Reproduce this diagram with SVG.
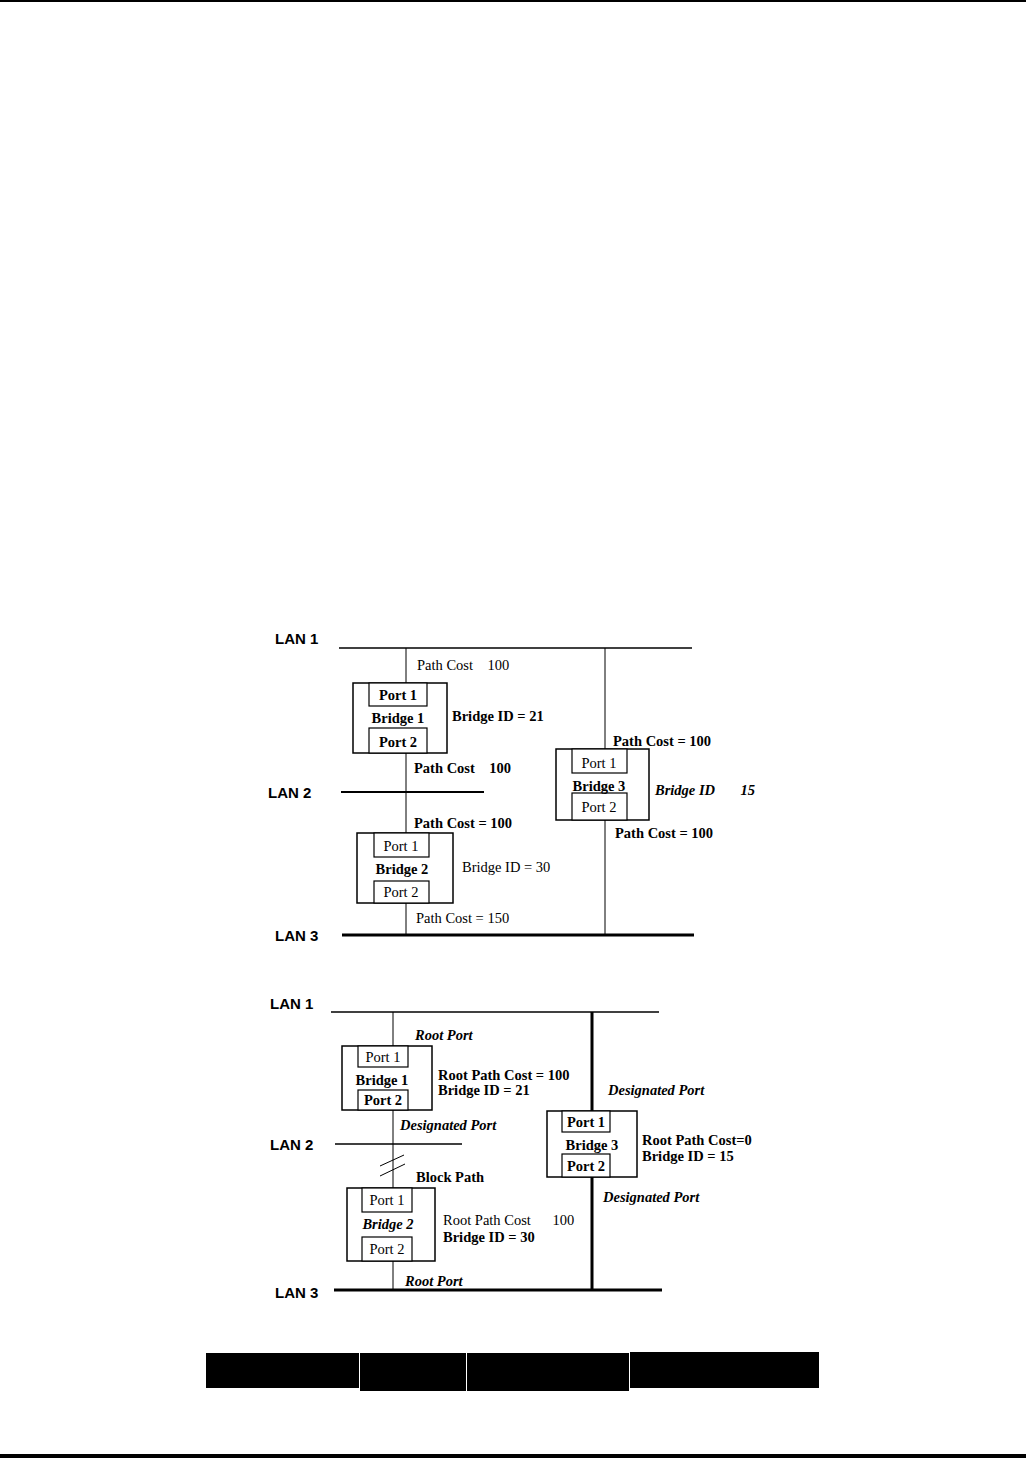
<svg xmlns="http://www.w3.org/2000/svg" width="1026" height="1458" viewBox="0 0 1026 1458" xml:space="preserve">
<style>
.lan{font-family:"Liberation Sans",Arial,sans-serif;font-weight:bold;font-size:15px;fill:#000}
.t{font-family:"Liberation Serif","Times New Roman",serif;font-size:14.5px;fill:#000;white-space:pre}
.b{font-weight:bold}
.i{font-style:italic;font-weight:bold}
.box{fill:#fff;stroke:#000;stroke-width:1.5}
.pbox{fill:#fff;stroke:#000;stroke-width:1.2}
.ln{stroke:#000;fill:none}
</style>
<rect x="0" y="0" width="1026" height="2" fill="#000"/>
<rect x="0" y="1454" width="1026" height="4" fill="#000"/>

<g id="connectors">
<line class="ln" x1="339" y1="648" x2="692" y2="648" stroke-width="1.5"/>
<line class="ln" x1="341" y1="792" x2="484" y2="792" stroke-width="2"/>
<line class="ln" x1="342" y1="935" x2="694" y2="935" stroke-width="3"/>
<line class="ln" x1="406" y1="648" x2="406" y2="935" stroke-width="1"/>
<line class="ln" x1="605" y1="648" x2="605" y2="935" stroke-width="1"/>
<line class="ln" x1="331" y1="1012" x2="659" y2="1012" stroke-width="1.5"/>
<line class="ln" x1="335" y1="1144" x2="462" y2="1144" stroke-width="1.5"/>
<line class="ln" x1="334" y1="1290" x2="662" y2="1290" stroke-width="3"/>
<line class="ln" x1="393" y1="1012" x2="393" y2="1290" stroke-width="1"/>
<line class="ln" x1="592" y1="1012" x2="592" y2="1290" stroke-width="3"/>
<line class="ln" x1="380" y1="1166" x2="404" y2="1155" stroke-width="1"/>
<line class="ln" x1="380" y1="1176" x2="405" y2="1164" stroke-width="1"/>
</g>

<g id="lan-labels">
<text class="lan" x="275" y="644">LAN 1</text>
<text class="lan" x="268" y="798">LAN 2</text>
<text class="lan" x="275" y="941">LAN 3</text>
<text class="lan" x="270" y="1009">LAN 1</text>
<text class="lan" x="270" y="1150">LAN 2</text>
<text class="lan" x="275" y="1298">LAN 3</text>
</g>

<g id="d1-bridge1">
<rect class="box" x="353" y="683" width="94" height="70"/>
<rect class="pbox" x="369" y="683" width="58" height="23"/>
<rect class="pbox" x="369" y="728" width="58" height="25"/>
<text class="t b" x="398" y="700" text-anchor="middle">Port 1</text>
<text class="t b" x="398" y="723" text-anchor="middle">Bridge 1</text>
<text class="t b" x="398" y="747" text-anchor="middle">Port 2</text>
</g>
<g id="d1-bridge2">
<rect class="box" x="357" y="833" width="96" height="70"/>
<rect class="pbox" x="374" y="833" width="55" height="24"/>
<rect class="pbox" x="374" y="881" width="55" height="22"/>
<text class="t" x="401" y="851" text-anchor="middle">Port 1</text>
<text class="t b" x="402" y="874" text-anchor="middle">Bridge 2</text>
<text class="t" x="401" y="897" text-anchor="middle">Port 2</text>
</g>
<g id="d1-bridge3">
<rect class="box" x="556" y="749" width="93" height="71"/>
<rect class="pbox" x="572" y="749" width="55" height="24"/>
<rect class="pbox" x="572" y="793" width="55" height="27"/>
<text class="t" x="599" y="768" text-anchor="middle">Port 1</text>
<text class="t b" x="599" y="791" text-anchor="middle">Bridge 3</text>
<text class="t" x="599" y="812" text-anchor="middle">Port 2</text>
</g>
<g id="d1-labels">
<text class="t" x="417" y="670">Path Cost    100</text>
<text class="t b" x="452" y="721">Bridge ID = 21</text>
<text class="t b" x="414" y="773">Path Cost    100</text>
<text class="t b" x="414" y="828">Path Cost = 100</text>
<text class="t" x="462" y="872">Bridge ID = 30</text>
<text class="t" x="416" y="923">Path Cost = 150</text>
<text class="t b" x="613" y="746">Path Cost = 100</text>
<text class="t i" x="655" y="795">Bridge ID       15</text>
<text class="t b" x="615" y="838">Path Cost = 100</text>
</g>

<g id="d2-bridge1">
<rect class="box" x="342" y="1046" width="90" height="64"/>
<rect class="pbox" x="358" y="1046" width="50" height="21"/>
<rect class="pbox" x="358" y="1090" width="50" height="20"/>
<text class="t" x="383" y="1062" text-anchor="middle">Port 1</text>
<text class="t b" x="382" y="1085" text-anchor="middle">Bridge 1</text>
<text class="t b" x="383" y="1105" text-anchor="middle">Port 2</text>
</g>
<g id="d2-bridge2">
<rect class="box" x="347" y="1188" width="88" height="73"/>
<rect class="pbox" x="362" y="1188" width="50" height="24"/>
<rect class="pbox" x="362" y="1237" width="50" height="24"/>
<text class="t" x="387" y="1205" text-anchor="middle">Port 1</text>
<text class="t i" x="388" y="1229" text-anchor="middle">Bridge 2</text>
<text class="t" x="387" y="1254" text-anchor="middle">Port 2</text>
</g>
<g id="d2-bridge3">
<rect class="box" x="547" y="1111" width="90" height="66"/>
<rect class="pbox" x="562" y="1111" width="48" height="21"/>
<rect class="pbox" x="562" y="1154" width="48" height="23"/>
<text class="t b" x="586" y="1127" text-anchor="middle">Port 1</text>
<text class="t b" x="592" y="1150" text-anchor="middle">Bridge 3</text>
<text class="t b" x="586" y="1171" text-anchor="middle">Port 2</text>
</g>
<g id="d2-labels">
<text class="t i" x="415" y="1040">Root Port</text>
<text class="t b" x="438" y="1080">Root Path Cost = 100</text>
<text class="t b" x="438" y="1095">Bridge ID = 21</text>
<text class="t i" x="400" y="1130">Designated Port</text>
<text class="t b" x="416" y="1182">Block Path</text>
<text class="t" x="443" y="1225">Root Path Cost      100</text>
<text class="t b" x="443" y="1242">Bridge ID = 30</text>
<text class="t i" x="405" y="1286">Root Port</text>
<text class="t i" x="608" y="1095">Designated Port</text>
<text class="t b" x="642" y="1145">Root Path Cost=0</text>
<text class="t b" x="642" y="1161">Bridge ID = 15</text>
<text class="t i" x="603" y="1202">Designated Port</text>
</g>

<g id="footer-bar">
<rect x="206" y="1353" width="153" height="35" fill="#000"/>
<rect x="360" y="1353" width="106" height="38" fill="#000"/>
<rect x="467" y="1353" width="162" height="38" fill="#000"/>
<rect x="630" y="1352" width="189" height="36" fill="#000"/>
</g>
</svg>
